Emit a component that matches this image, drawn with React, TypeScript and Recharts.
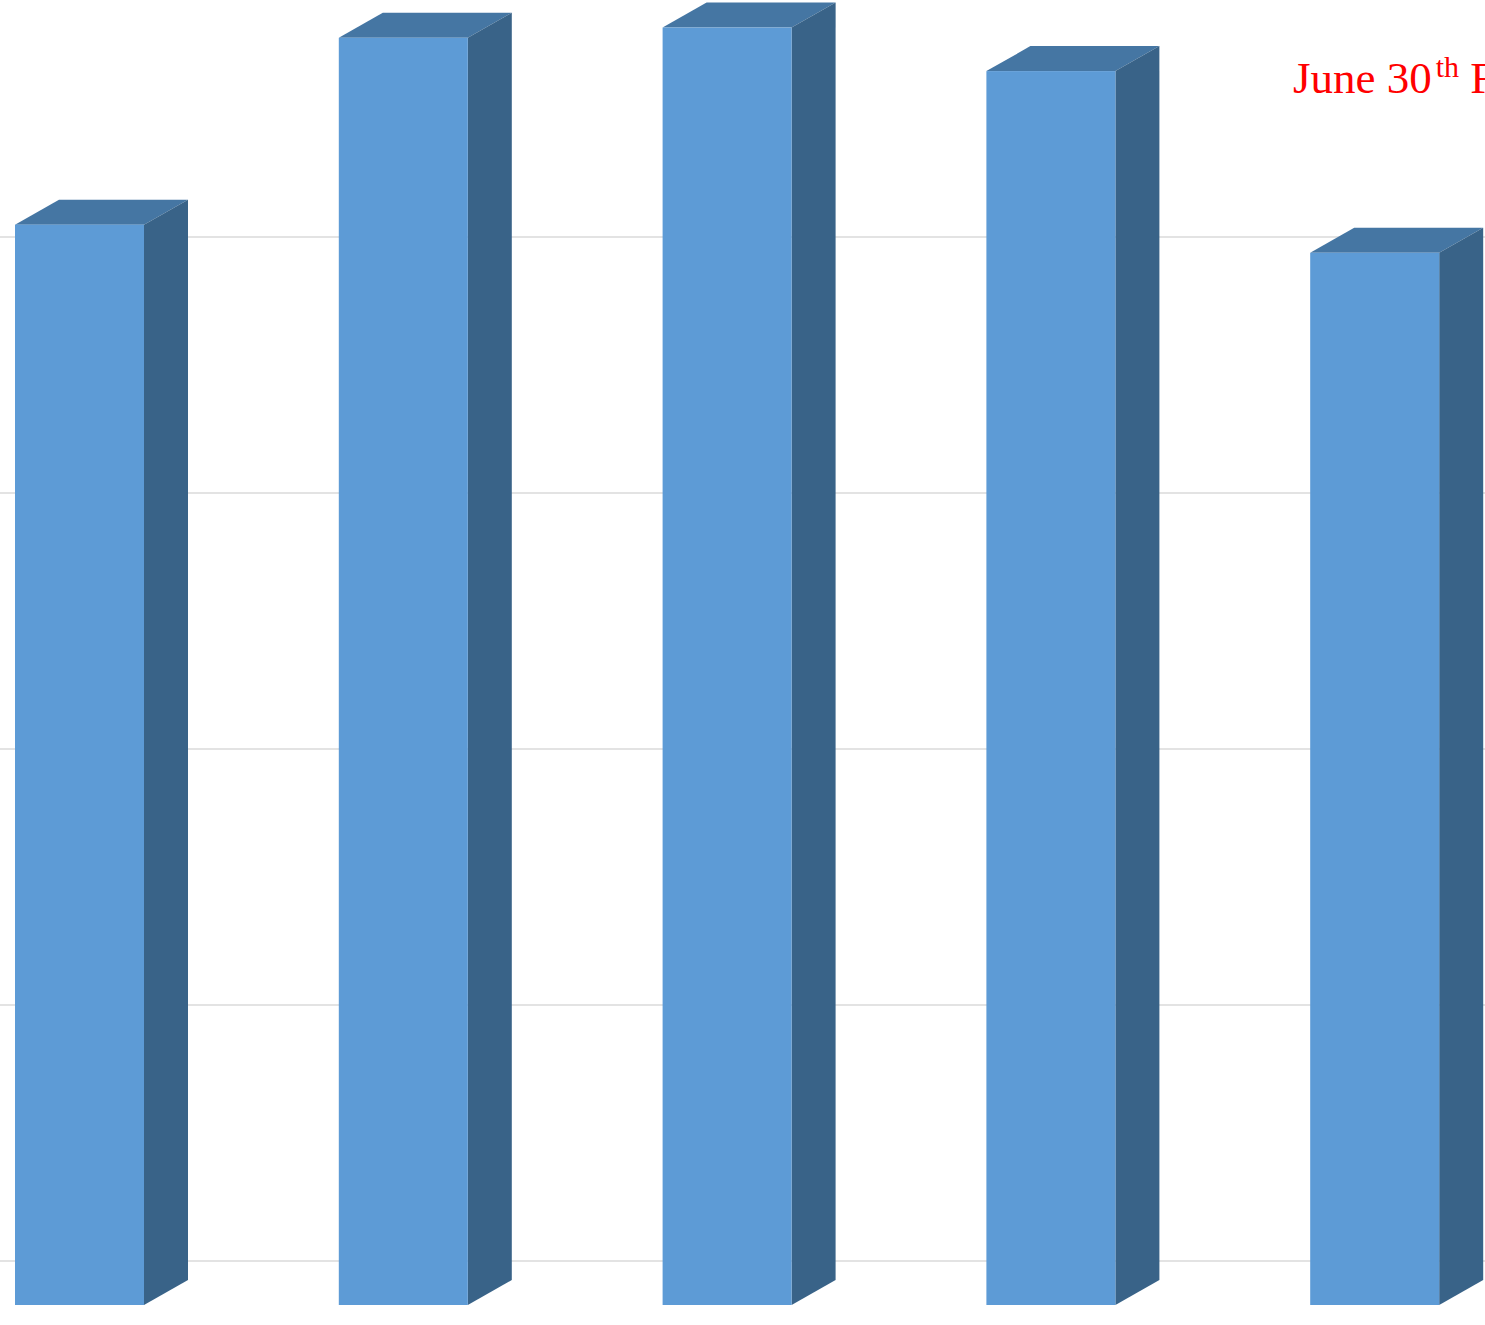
import React from 'react';
import { Bar, BarChart, CartesianGrid, XAxis, YAxis } from 'recharts';

const categories = ['A', 'B', 'C', 'D', 'E'];
const values = [4.22, 4.95, 4.99, 4.82, 4.11];
const yTicks = [0, 1, 2, 3, 4];

const data = categories.map((name, i) => ({ name, value: values[i] }));

const DX = 44;
const DY = 25;
const WALL_DY = 44;

function Bar3D(props: any) {
  const { x, y, width, height } = props;
  if (height <= 0) return null;
  const r = x + width;
  const b = y + height;
  return (
    <g>
      <polygon
        points={`${x},${y} ${x + DX},${y - DY} ${r + DX},${y - DY} ${r},${y}`}
        fill="#4576a3"
      />
      <polygon
        points={`${r},${y} ${r + DX},${y - DY} ${r + DX},${b - DY} ${r},${b}`}
        fill="#396388"
      />
      <rect x={x} y={y} width={width} height={height} fill="#5d9bd6" />
    </g>
  );
}

function GridLine(props: any) {
  const { y1 } = props;
  return <line x1={0} x2={1700} y1={y1 - WALL_DY} y2={y1 - WALL_DY} stroke="#e3e3e3" strokeWidth={2} />;
}

export default function App() {
  return (
    <div style={{ position: 'absolute', left: 0, top: 0, width: 1485, height: 1325, overflow: 'hidden', background: '#fff' }}>
      <div style={{ position: 'absolute', left: -82, top: 0 }}>
        <BarChart width={1619} height={1325} data={data} margin={{ top: 0, right: 0, bottom: 20, left: 0 }}>
          <CartesianGrid vertical={false} horizontal={(p: any) => <GridLine key={p.key} {...p} />} />
          <XAxis dataKey="name" hide />
          <YAxis hide domain={[0, 1305 / 256]} ticks={yTicks} allowDataOverflow />
          <Bar dataKey="value" barSize={129} shape={<Bar3D />} isAnimationActive={false} />
        </BarChart>
      </div>
      <div
        style={{
          position: 'absolute',
          left: 1293,
          top: 39,
          fontFamily: '"Liberation Serif", serif',
          fontSize: 45,
          color: '#ff0000',
          whiteSpace: 'nowrap',
          lineHeight: '56px',
        }}
      >
        June 30<sup style={{ fontSize: 30, marginLeft: 4 }}>th</sup>&nbsp;F
      </div>
    </div>
  );
}
